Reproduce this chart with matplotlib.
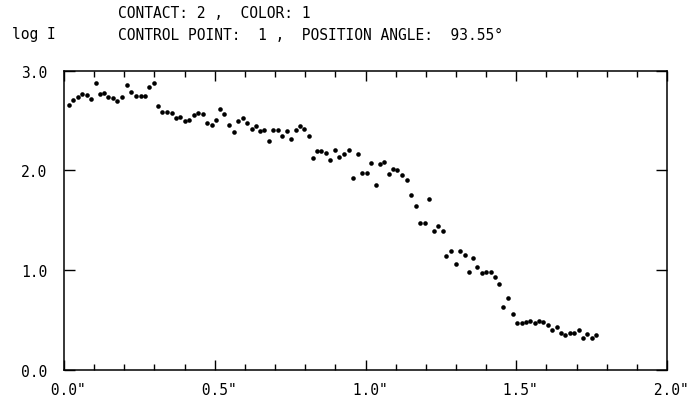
import matplotlib
matplotlib.use('Agg')
import matplotlib.pyplot as plt
from matplotlib.ticker import MultipleLocator

# offset along the slit (arcsec) and log intensity
offset = [
    0.017, 0.030, 0.045, 0.059, 0.075, 0.088, 0.105, 0.119, 0.134, 0.147,
    0.161, 0.177, 0.193, 0.209, 0.223, 0.239, 0.254, 0.269, 0.282, 0.297,
    0.311, 0.326, 0.341, 0.357, 0.370, 0.386, 0.400, 0.416, 0.431, 0.444,
    0.461, 0.474, 0.490, 0.503, 0.518, 0.532, 0.548, 0.564, 0.578, 0.595,
    0.606, 0.622, 0.636, 0.651, 0.664, 0.681, 0.694, 0.710, 0.722, 0.738,
    0.754, 0.768, 0.783, 0.797, 0.812, 0.825, 0.840, 0.854, 0.870, 0.883,
    0.900, 0.913, 0.929, 0.945, 0.959, 0.975, 0.988, 1.005, 1.018, 1.034,
    1.047, 1.062, 1.077, 1.091, 1.104, 1.121, 1.139, 1.152, 1.167, 1.180,
    1.197, 1.211, 1.226, 1.239, 1.256, 1.268, 1.283, 1.300, 1.313, 1.330,
    1.342, 1.358, 1.370, 1.387, 1.399, 1.417, 1.428, 1.444, 1.457, 1.473,
    1.489, 1.501, 1.518, 1.532, 1.547, 1.561, 1.576, 1.589, 1.606, 1.618,
    1.634, 1.647, 1.663, 1.678, 1.692, 1.708, 1.721, 1.735, 1.750, 1.766,
]
log_i = [
    2.66, 2.71, 2.74, 2.77, 2.76, 2.72, 2.88, 2.77, 2.78, 2.74,
    2.73, 2.70, 2.74, 2.86, 2.79, 2.75, 2.75, 2.75, 2.84, 2.88,
    2.65, 2.59, 2.59, 2.58, 2.53, 2.54, 2.50, 2.51, 2.56, 2.58,
    2.57, 2.48, 2.46, 2.51, 2.62, 2.57, 2.46, 2.39, 2.50, 2.53,
    2.48, 2.42, 2.45, 2.40, 2.41, 2.30, 2.41, 2.41, 2.35, 2.40,
    2.32, 2.41, 2.45, 2.42, 2.35, 2.13, 2.20, 2.20, 2.18, 2.11,
    2.21, 2.14, 2.17, 2.21, 1.92, 2.17, 1.97, 1.97, 2.08, 1.85,
    2.07, 2.09, 1.96, 2.01, 2.00, 1.95, 1.90, 1.75, 1.64, 1.47,
    1.47, 1.71, 1.39, 1.44, 1.39, 1.14, 1.19, 1.06, 1.19, 1.15,
    0.98, 1.12, 1.03, 0.97, 0.98, 0.98, 0.93, 0.86, 0.63, 0.72,
    0.56, 0.47, 0.47, 0.48, 0.49, 0.47, 0.49, 0.48, 0.45, 0.40,
    0.43, 0.37, 0.35, 0.37, 0.37, 0.40, 0.32, 0.36, 0.32, 0.35,
]

x_ticks = [0.0, 0.5, 1.0, 1.5, 2.0]
x_labels = [' 0.0"', ' 0.5"', ' 1.0"', ' 1.5"', ' 2.0"']
y_ticks = [0.0, 1.0, 2.0, 3.0]
y_labels = ['0.0', '1.0', '2.0', '3.0']

FONT = 'DejaVu Sans Mono'
FS = 10.5

fig = plt.figure(figsize=(6.88, 4.06), dpi=100)
ax = fig.add_axes([0.093, 0.0874, 0.8765, 0.7353])

ax.plot(offset, log_i, linestyle='none', marker='o', ms=3.3,
        color='black', markeredgewidth=0)

ax.set_xlim(0, 2.0)
ax.set_ylim(0, 3.0)

ax.set_xticks(x_ticks)
ax.set_xticklabels(x_labels, fontfamily=FONT, fontsize=FS)
ax.xaxis.set_minor_locator(MultipleLocator(0.1))
ax.set_yticks(y_ticks)
ax.set_yticklabels(y_labels, fontfamily=FONT, fontsize=FS)

ax.tick_params(axis='x', which='major', direction='in', length=7, width=1,
               top=True, bottom=True, pad=9)
ax.tick_params(axis='x', which='minor', direction='in', length=4, width=1,
               top=True, bottom=True)
ax.tick_params(axis='y', which='major', direction='in', length=8, width=1,
               left=True, right=True, pad=12)

for sp in ax.spines.values():
    sp.set_linewidth(1.1)

# header text
fig.text(118 / 688, 1 - 14 / 406, 'CONTACT: 2 ,  COLOR: 1',
         ha='left', va='center', fontfamily=FONT, fontsize=FS)
fig.text(118 / 688, 1 - 35 / 406,
         'CONTROL POINT:  1 ,  POSITION ANGLE:  93.55\u00b0',
         ha='left', va='center', fontfamily=FONT, fontsize=FS)
fig.text(12 / 688, 1 - 35 / 406, 'log I',
         ha='left', va='center', fontfamily=FONT, fontsize=FS)

fig.savefig('out.png', dpi=100, facecolor='white')
